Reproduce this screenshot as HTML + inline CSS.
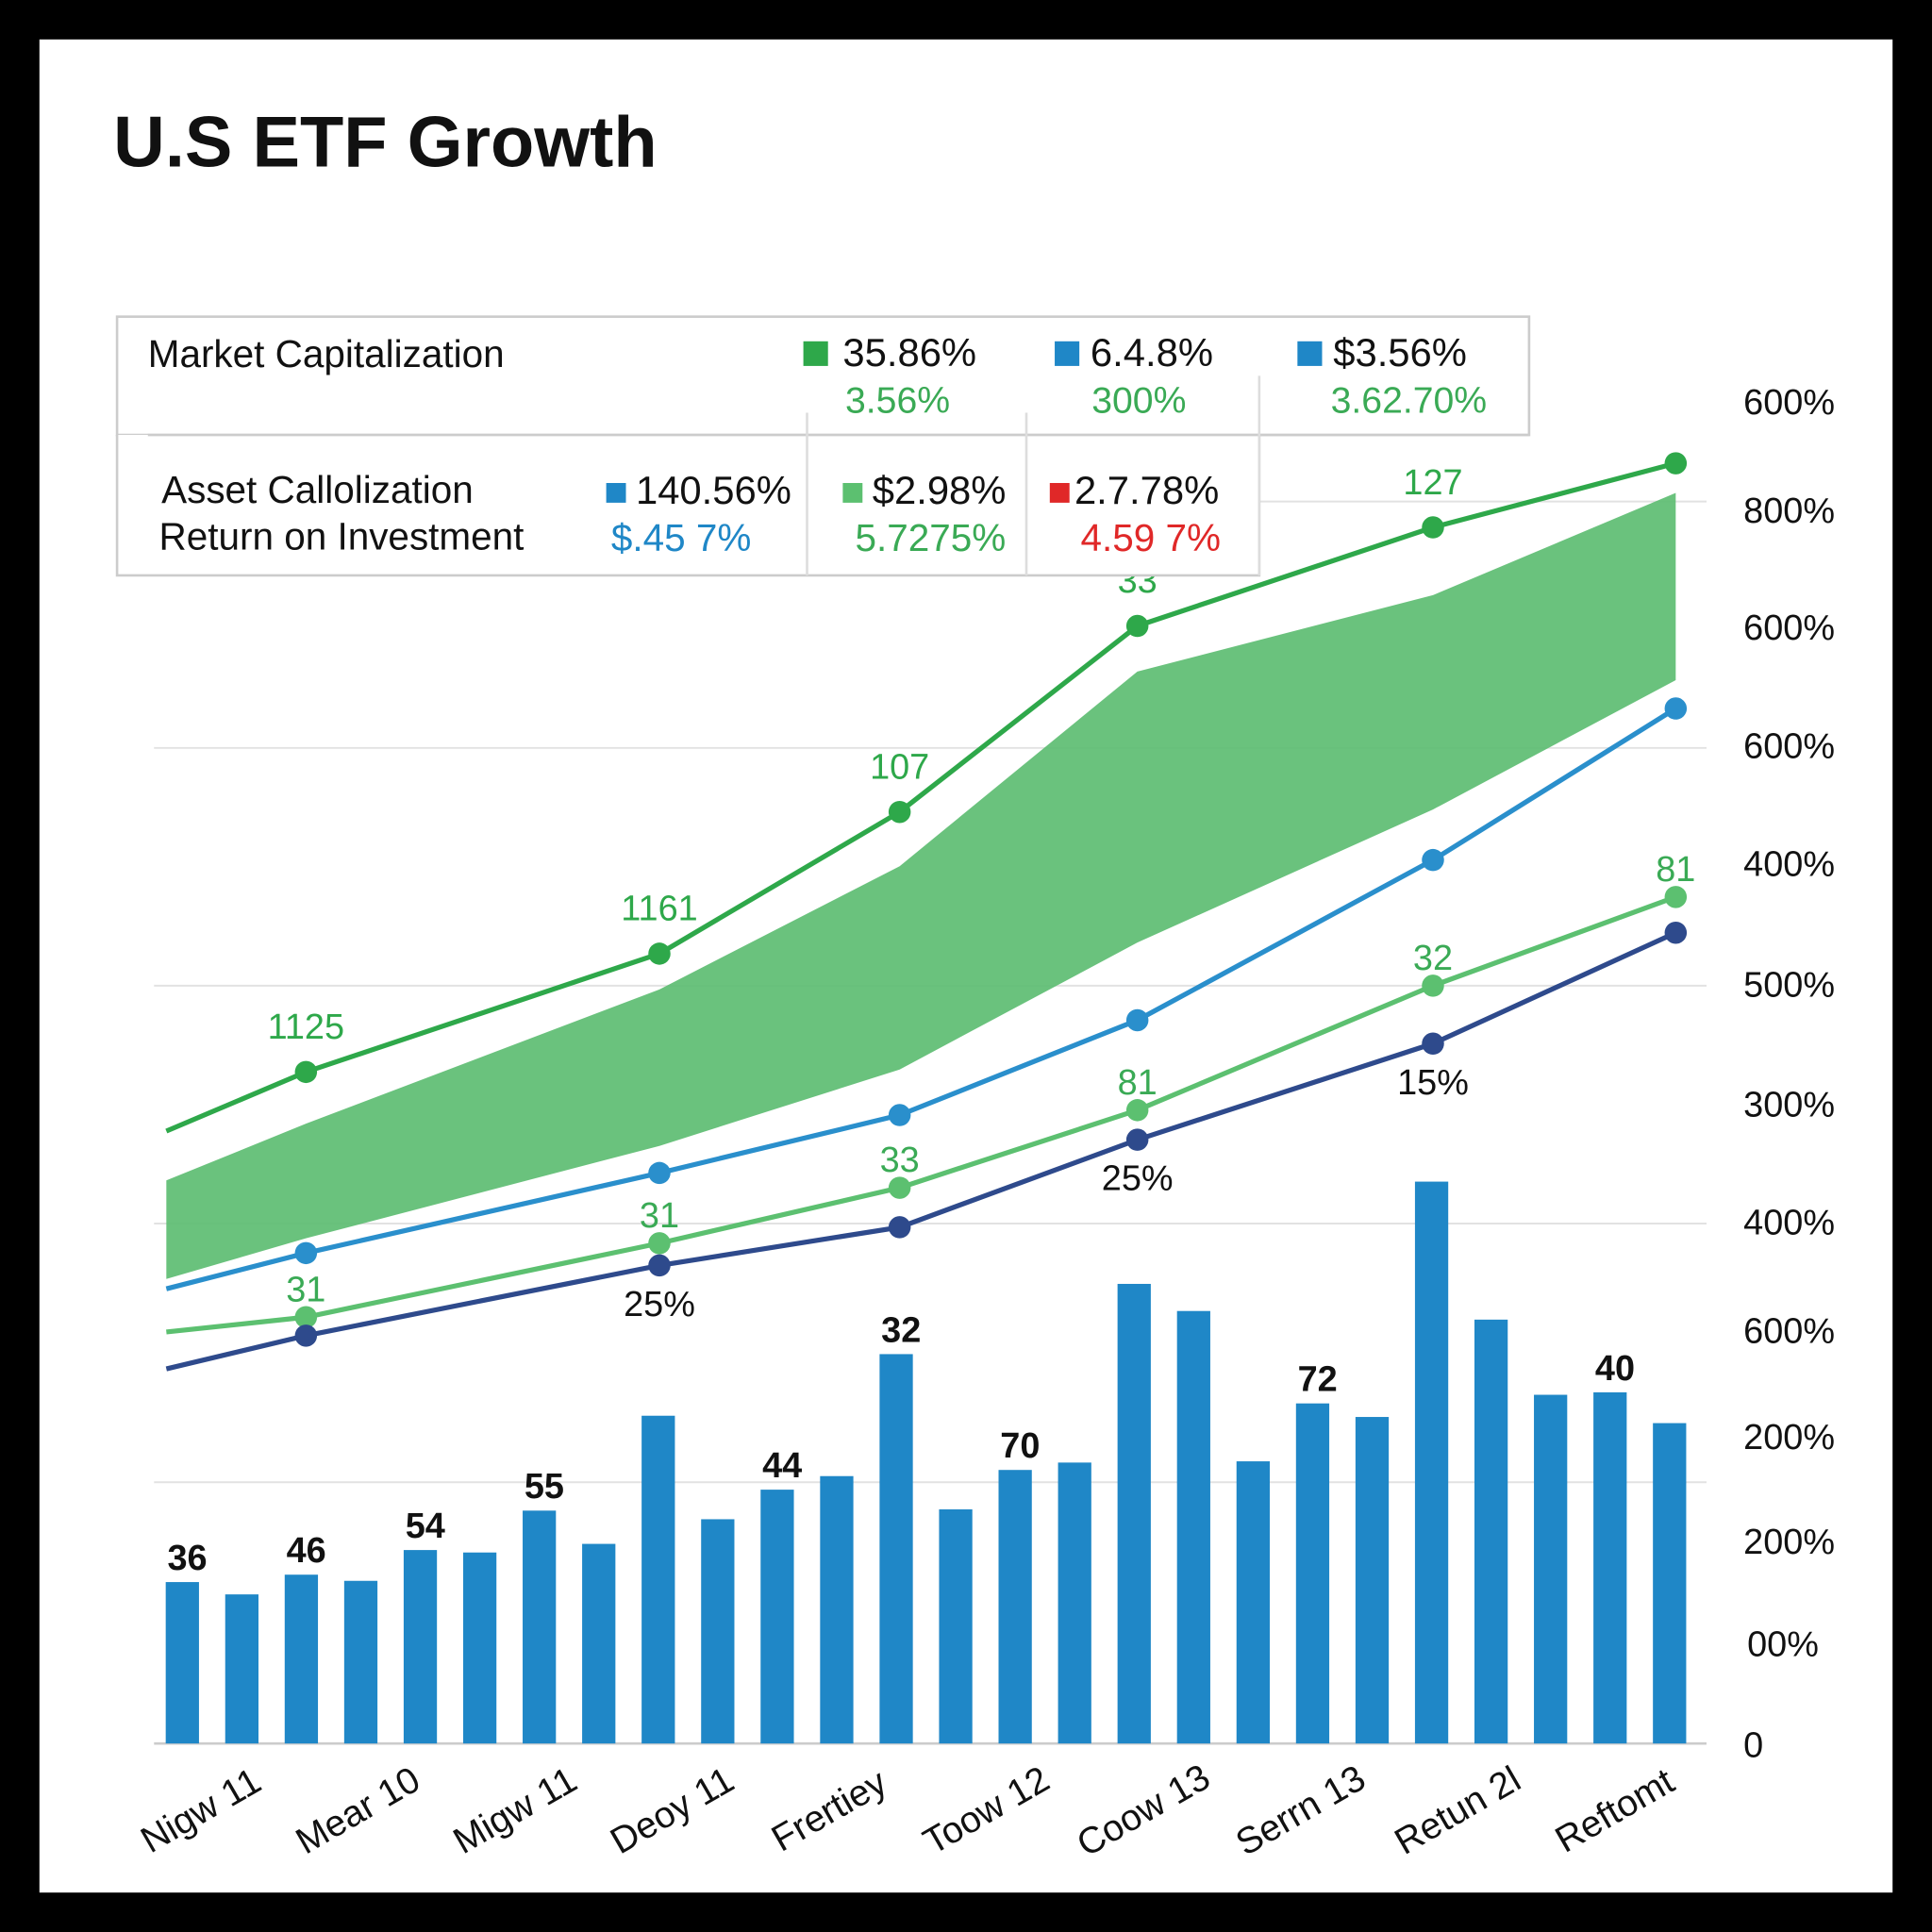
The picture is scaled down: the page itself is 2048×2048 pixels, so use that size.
<!DOCTYPE html>
<html><head><meta charset="utf-8"><style>
html,body{margin:0;padding:0;background:#000;}
svg{display:block;font-family:"Liberation Sans",Arial,sans-serif;}
</style></head><body>
<svg id="chart" width="2048" height="2048" viewBox="0 0 1568 1568" xmlns="http://www.w3.org/2000/svg">
<rect x="0" y="0" width="1568" height="1568" fill="#000"/>
<rect x="32" y="32" width="1504" height="1504" fill="#fff"/>
<text x="92" y="135" font-size="58" font-weight="bold" fill="#111">U.S ETF Growth</text>
<g id="grid"></g>
<g id="bars"></g>
<g id="lines"></g>
<g id="yaxis"></g>
<g id="xaxis"></g>
<g>
<rect x="95" y="257" width="1146" height="96" fill="#fff" stroke="#ccc" stroke-width="2"/>
<path d="M95 353 V467 H1022 V353" fill="#fff" stroke="#ccc" stroke-width="2"/>
<line x1="120" y1="353" x2="1241" y2="353" stroke="#ccc" stroke-width="2"/>
<line x1="655" y1="335" x2="655" y2="467" stroke="#ddd" stroke-width="2"/>
<line x1="833" y1="335" x2="833" y2="467" stroke="#ddd" stroke-width="2"/>
<line x1="1022" y1="305" x2="1022" y2="467" stroke="#ddd" stroke-width="2"/>
<text x="120" y="298" font-size="31" fill="#111">Market Capitalization</text>
<rect x="652" y="277" width="20" height="20" fill="#2ea84a"/><text x="684" y="297" font-size="32" fill="#111">35.86%</text>
<text x="686" y="335" font-size="30" fill="#3aaa55">3.56%</text>
<rect x="856" y="277" width="20" height="20" fill="#1f87c7"/><text x="885" y="297" font-size="32" fill="#111">6.4.8%</text>
<text x="886" y="335" font-size="30" fill="#3aaa55">300%</text>
<rect x="1053" y="277" width="20" height="20" fill="#1f87c7"/><text x="1082" y="297" font-size="32" fill="#111">$3.56%</text>
<text x="1080" y="335" font-size="30" fill="#3aaa55">3.62.70%</text>
<text x="131" y="408" font-size="31" fill="#111">Asset Callolization</text>
<text x="129" y="446" font-size="31" fill="#111">Return on Investment</text>
<rect x="492" y="392" width="16" height="16" fill="#1f87c7"/><text x="516" y="409" font-size="32" fill="#111">140.56%</text>
<text x="496" y="447" font-size="31" fill="#1f87c7">$.45 7%</text>
<rect x="684" y="392" width="16" height="16" fill="#5cc070"/><text x="708" y="409" font-size="32" fill="#111">$2.98%</text>
<text x="694" y="447" font-size="31" fill="#3aaa55">5.7275%</text>
<rect x="852" y="392" width="16" height="16" fill="#e02828"/><text x="872" y="409" font-size="32" fill="#111">2.7.78%</text>
<text x="877" y="447" font-size="31" fill="#e02828">4.59 7%</text>
</g>
</svg>
<script>
var barValues=[26.2,24.2,27.4,26.4,31.4,31,37.8,32.4,53.2,36.4,41.2,43.4,63.2,38,44.4,45.6,74.6,70.2,45.8,55.2,53,91.2,68.8,56.6,57,52];
var barLabels={0:"36",2:"46",4:"54",6:"55",10:"44",12:"32",14:"70",19:"72",24:"40"};
var lineT=[0,1.11,3.92,5.83,7.72,10.07,12];
var topLine=[99.4,109,128.2,151.2,181.4,197.4,207.8];
var areaUpper=[91.4,100.6,122.4,142.4,174,186.4,203];
var areaLower=[75.4,82,97,109.4,130,151.6,172.6];
var blueLine=[73.8,79.6,92.6,102,117.4,143.4,168];
var lightGreenLine=[66.8,69.2,81.2,90.2,102.8,123,137.4];
var navyLine=[60.8,66.2,77.6,83.8,98,113.6,131.6];
var topLabels=[null,"1125","1161","107","33","127",null];
var lgLabels=[null,"31","31","33","81","32","81"];
var navyLabels=[null,null,"25%",null,"25%","15%",null];
var yTickLabels=["600%","800%","600%","600%","400%","500%","300%","400%","600%","200%","200%","00%","0"];
var xCategories=["Nigw 11","Mear 10","Migw 11","Deoy 11","Frertiey","Toow 12","Coow 13","Serrn 13","Retun 2l","Reftomt"];

var NS="http://www.w3.org/2000/svg";
function Y(v){return 1415-v*5;}
function XT(t){return 135+t*(1360-135)/12;}
function XB(i){return 148+i*48.28;}
function mk(tag,attrs,parent){var e=document.createElementNS(NS,tag);for(var k in attrs)e.setAttribute(k,attrs[k]);parent.appendChild(e);return e;}
var grid=document.getElementById('grid'),bars=document.getElementById('bars'),lines=document.getElementById('lines'),yaxis=document.getElementById('yaxis'),xaxis=document.getElementById('xaxis');
[407,607,800,993,1203].forEach(function(y){var l=mk('line',{x1:125,x2:1385,y1:y,y2:y,stroke:'#e2e2e2','stroke-width':1.5},grid);

});
var base=mk('line',{x1:125,x2:1385,y1:1415,y2:1415,stroke:'#ccc','stroke-width':2},grid);


barValues.forEach(function(v,i){
 var r=mk('rect',{x:XB(i)-13.5,y:Y(v),width:27,height:v*5,fill:'#1f87c7'},bars);
 
 
 if(barLabels[i]){var t=mk('text',{x:XB(i)+4,y:Y(v)-10,'font-size':29,'font-weight':'bold','text-anchor':'middle',fill:'#111'},bars);t.textContent=barLabels[i];
 
 }
});
var pts=function(arr){return arr.map(function(v,i){return XT(lineT[i])+','+Y(v);});};
var area=mk('polygon',{points:pts(areaUpper).concat(pts(areaLower).reverse()).join(' '),fill:'#5dbd72',opacity:0.92},lines);


function drawLine(arr,color,name,labels,lcol,dy){
 var p=mk('polyline',{points:pts(arr).join(' '),fill:'none',stroke:color,'stroke-width':4},lines);
 
 
 arr.forEach(function(v,i){if(i===0)return;
  var c=mk('circle',{cx:XT(lineT[i]),cy:Y(v),r:9,fill:color},lines);
  
  
  if(labels&&labels[i]){var t=mk('text',{x:XT(lineT[i]),y:Y(v)+dy,'font-size':29,'text-anchor':'middle',fill:lcol},lines);t.textContent=labels[i];
  
  }
 });
}
drawLine(topLine,'#2ea84a','top-line',topLabels,'#2ea84a',-27);
drawLine(blueLine,'#2a8fcc','blue-line',null,'#000',0);
drawLine(lightGreenLine,'#5cc070','light-green-line',lgLabels,'#3aaa55',-13);
drawLine(navyLine,'#2e4a8c','navy-line',navyLabels,'#111',41);
var yPos=[325,413,508,604,700,798,895,991,1079,1165,1250,1333,1415];
yTickLabels.forEach(function(s,i){var t=mk('text',{x:i===12?1415:(i===11?1418:1415),y:yPos[i]+11,'font-size':29,fill:'#111'},yaxis);t.textContent=s;
 
 });
xCategories.forEach(function(s,i){var x=168+i*127.5,y=1478;var t=mk('text',{x:x,y:y,'font-size':30,'text-anchor':'middle',fill:'#111',transform:'rotate(-30 '+x+' '+y+')'},xaxis);t.textContent=s;
 
 });
</script>
</body></html>
